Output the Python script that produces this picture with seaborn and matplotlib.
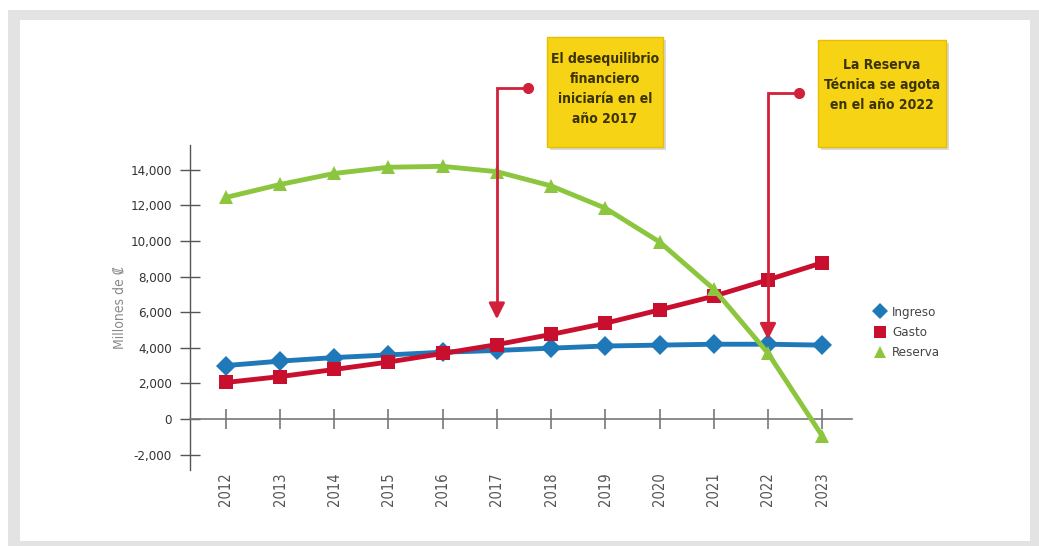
import matplotlib
matplotlib.use("Agg")
import matplotlib.pyplot as plt
from matplotlib.patches import Rectangle
from matplotlib.lines import Line2D
import seaborn as sns
import pandas as pd

# ---- data ----
years = [2012, 2013, 2014, 2015, 2016, 2017, 2018, 2019, 2020, 2021, 2022, 2023]
ingreso = [3000, 3250, 3450, 3600, 3750, 3850, 3980, 4100, 4150, 4200, 4200, 4150]
gasto = [2050, 2380, 2780, 3200, 3680, 4180, 4750, 5380, 6130, 6900, 7820, 8780]
reserva = [12450, 13180, 13800, 14150, 14200, 13900, 13100, 11850, 9950, 7300, 3700, -950]
series_names = ["Ingreso", "Gasto", "Reserva"]
series_colors = ["#1f78b8", "#c8102e", "#8cc63f"]
series_markers = ["D", "s", "^"]
yticks = [-2000, 0, 2000, 4000, 6000, 8000, 10000, 12000, 14000]
note1 = "El desequilibrio\nfinanciero\niniciaría en el\naño 2017"
note2 = "La Reserva\nTécnica se agota\nen el año 2022"

sns.set_theme(style="white")
plt.rcParams["font.family"] = ["DejaVu Sans"]
plt.rcParams["font.stretch"] = "condensed"

W, H = 1039, 546
fig = plt.figure(figsize=(W / 100, H / 100), dpi=100)
fig.patch.set_facecolor("white")

def fx(px):
    return px / W

def fy(py):
    return 1 - py / H

# grey frame
fig.patches.append(Rectangle((fx(8), 0), fx(1031), fy(10), transform=fig.transFigure,
                             facecolor="#e3e3e3", edgecolor="none", zorder=-10))
fig.patches.append(Rectangle((fx(20), fy(541)), fx(1010), (541 - 20) / H, transform=fig.transFigure,
                             facecolor="white", edgecolor="none", zorder=-9))

ax = fig.add_axes([fx(190), fy(470), fx(852 - 190), (470 - 145) / H])
ax.set_facecolor("none")

df = pd.DataFrame({
    "Año": years * 3,
    "Valor": ingreso + gasto + reserva,
    "Serie": [s for s in series_names for _ in years],
})

sns.lineplot(data=df, x="Año", y="Valor", hue="Serie", style="Serie",
             palette=dict(zip(series_names, series_colors)),
             markers=dict(zip(series_names, series_markers)),
             dashes=False, linewidth=3.5, markersize=10, markeredgewidth=0,
             legend=False, ax=ax, zorder=3)

ax.set_xlim(2011.34, 2023.55)
ax.set_ylim(-2870, 15400)
ax.set_xticks(years)
ax.set_xticklabels([str(y) for y in years])
ax.set_yticks(yticks)
ax.set_yticklabels([f"{v:,}" for v in yticks])
ax.set_xlabel("")
ax.set_ylabel("Millones de ₡", fontsize=10, color="#8a8a8a", labelpad=3)

for s in ["top", "right"]:
    ax.spines[s].set_visible(False)
ax.spines["left"].set_color("#555555")
ax.spines["left"].set_linewidth(1)
ax.spines["bottom"].set_position(("data", 0))
ax.spines["bottom"].set_color("#777777")
ax.spines["bottom"].set_linewidth(1.2)
ax.tick_params(axis="x", bottom=True, direction="inout", length=15, width=1.2, color="#777777",
               pad=31, labelrotation=90, labelsize=10.5, labelcolor="#555555")
for lab in ax.get_xticklabels():
    lab.set_verticalalignment("top")
ax.tick_params(axis="y", left=True, direction="inout", length=14, width=1, color="#555555", pad=6,
               labelsize=9.5, labelcolor="#333333")
ax.grid(False)

# annotations: red bracket arrows
red = "#d0203a"
for xv, xdot, ytop, ytip in [(2017, 2017.57, 18600, 5450), (2022, 2022.57, 18300, 4300)]:
    ax.plot([xdot, xv, xv], [ytop, ytop, ytip + 600], color=red, lw=2, clip_on=False, zorder=5,
            solid_joinstyle="miter")
    ax.plot([xdot], [ytop], marker="o", ms=7, color=red, clip_on=False, zorder=6)
    ax.annotate("", xy=(xv, ytip), xytext=(xv, ytip + 1200),
                arrowprops=dict(arrowstyle="-|>,head_length=0.8,head_width=0.4",
                                color=red, lw=2),
                annotation_clip=False, zorder=6)

# yellow sticky notes
for (x0, y0, x1, y1), txt, ty in [((547, 37, 663, 147), note1, 89), ((818, 40, 946, 147), note2, 85)]:
    fig.patches.append(Rectangle((fx(x0 + 3), fy(y1 + 3)), fx(x1 - x0), (y1 - y0) / H,
                                 transform=fig.transFigure, facecolor="#d9d9d9",
                                 edgecolor="none", zorder=1))
    fig.patches.append(Rectangle((fx(x0), fy(y1)), fx(x1 - x0), (y1 - y0) / H,
                                 transform=fig.transFigure, facecolor="#f6d314",
                                 edgecolor="#e8bf00", lw=1, zorder=2))
    fig.text(fx((x0 + x1) / 2), fy(ty), txt, ha="center", va="center", fontsize=10,
             fontweight="bold", color="#3b3300", linespacing=1.55, zorder=3)

# legend
handles = [Line2D([], [], linestyle="none", marker=m, color=c, markersize=8, markeredgewidth=0)
           for m, c in zip(series_markers, series_colors)]
fig.legend(handles, series_names, loc="upper left", bbox_to_anchor=(fx(862), fy(294)),
           frameon=False, fontsize=9.5, handletextpad=0.4, labelspacing=0.55,
           handlelength=1.0, labelcolor="#444444")

fig.savefig("out.png", dpi=100)
